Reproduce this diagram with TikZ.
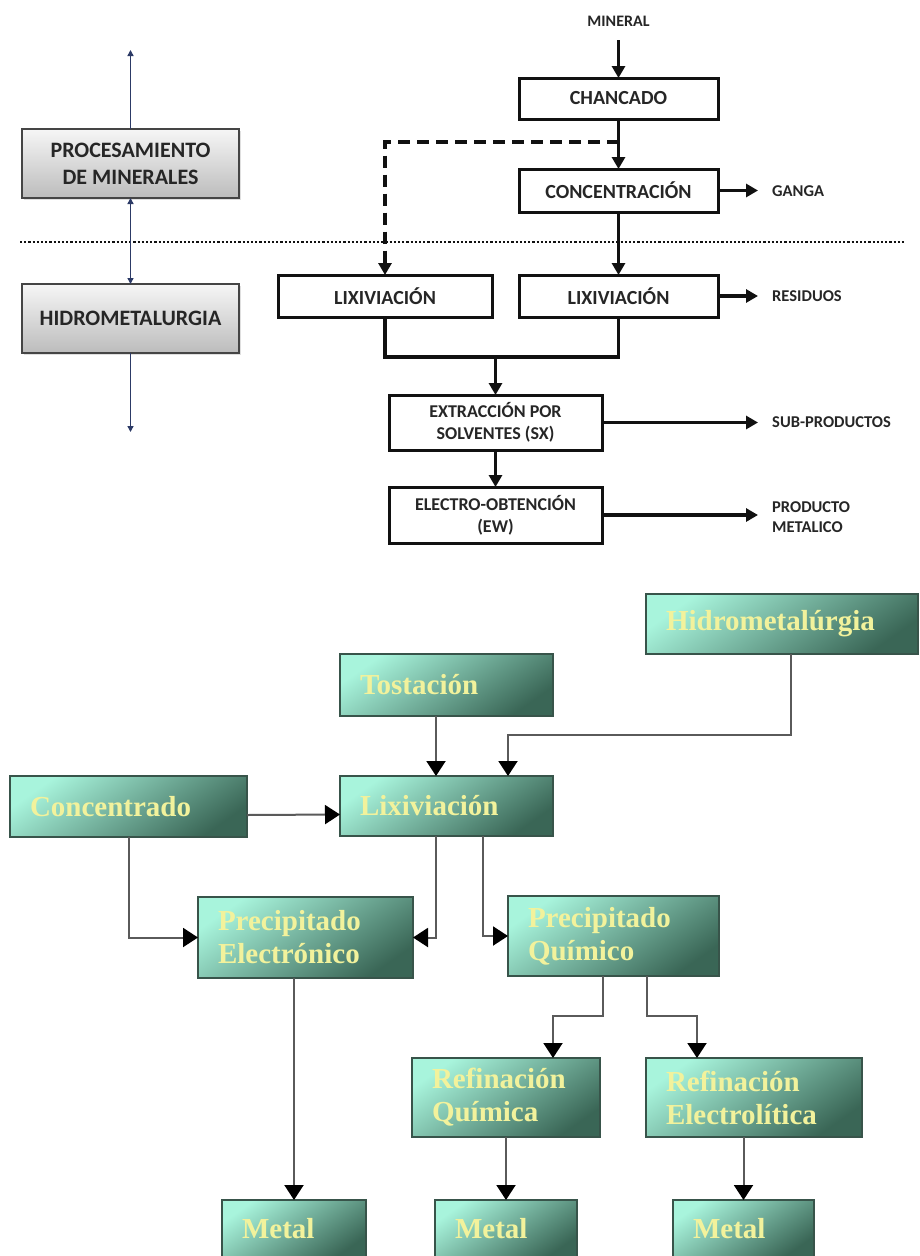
\documentclass[tikz,border=0pt]{standalone}
\usepackage{fontspec}
\newfontfamily\flowsans{Carlito}
\newfontfamily\flowserif{Liberation Serif}
\usetikzlibrary{arrows.meta,shadows}

\definecolor{flowblack}{HTML}{111111}
\definecolor{navyline}{HTML}{2C3A66}
\definecolor{grayTop}{HTML}{F6F6F6}
\definecolor{grayBot}{HTML}{BCBCBC}
\definecolor{grayEdge}{HTML}{454545}
\definecolor{greenLight}{HTML}{A8F4DC}
\definecolor{greenDark}{HTML}{3A6656}
\definecolor{greenEdge}{HTML}{38544A}
\definecolor{paleYellow}{HTML}{F2F29C}
\definecolor{linkGray}{HTML}{5A5A5A}

\begin{document}
\begin{tikzpicture}[x=1pt,y=-1pt,
  procbox/.style={draw=flowblack, line width=3pt, fill=white, inner sep=0pt,
    outer sep=0pt, align=center, text=black!85,
    font={\flowsans\bfseries\fontsize{20}{24}\selectfont}},
  smallproc/.style={procbox, font={\flowsans\bfseries\fontsize{18}{22}\selectfont}},
  sidelabel/.style={inner sep=0pt, anchor=west, align=left, text=black!85,
    font={\flowsans\bfseries\fontsize{16.5}{20}\selectfont}},
  stagebox/.style={draw=grayEdge, line width=1.8pt, top color=grayTop,
    bottom color=grayBot, inner sep=0pt, outer sep=0pt, align=center,
    text=black!85, minimum width=217pt, minimum height=69pt,
    drop shadow={shadow xshift=2pt, shadow yshift=-2pt, opacity=0.25},
    font={\flowsans\bfseries\fontsize{22}{27}\selectfont}},
  flow/.style={draw=flowblack, line width=3.2pt,
    -{Triangle[width=13pt,length=12pt]}},
  plainflow/.style={draw=flowblack, line width=3.2pt},
  stageline/.style={draw=navyline, line width=1.4pt},
  greenbox/.style={draw=greenEdge, line width=1.6pt, top color=greenLight,
    bottom color=greenDark, shading angle=35, inner xsep=20pt, inner ysep=0pt,
    outer sep=0pt, align=left, text=paleYellow,
    font={\flowserif\bfseries\fontsize{29}{33}\selectfont}},
  link/.style={draw=linkGray, line width=2pt,
    -{Triangle[width=19pt,length=15pt,color=black]}}
]
\useasboundingbox (0,0) rectangle (920,1256);
\clip (0,0) rectangle (920,1256);
\fill[white] (0,0) rectangle (920,1256);

% ---------- stage separator ----------
\coordinate (sepL) at (20,242);
\coordinate (sepR) at (905,242);
\draw[flowblack, line width=2.2pt, dash pattern=on 2.2pt off 2pt] (sepL) -- (sepR);

% ---------- stage column ----------
\node[stagebox] (proc) at (130.5,163.5) {PROCESAMIENTO\\DE MINERALES};
\node[stagebox] (hidroStage) at (130.5,318.5) {HIDROMETALURGIA};
\coordinate (stageTop) at (130.5,50);
\coordinate (stageBottom) at (130.5,432);
\draw[stageline, -{Triangle[width=6pt,length=6pt]}] (proc.north) -- (stageTop);
\draw[stageline, {Triangle[width=6pt,length=6pt]}-{Triangle[width=6pt,length=6pt]}]
  (proc.south) -- (hidroStage.north);
\draw[stageline, -{Triangle[width=6pt,length=6pt]}] (hidroStage.south) -- (stageBottom);

% ---------- process flow ----------
\node[inner sep=0pt, text=black!85, font={\flowsans\bfseries\fontsize{16}{20}\selectfont}]
  (mineral) at (618.5,21) {MINERAL};
\node[procbox, minimum width=199pt, minimum height=41pt] (chancado) at (618.5,98.5) {CHANCADO};
\node[procbox, minimum width=199pt, minimum height=43pt] (concen) at (618.5,190.5) {CONCENTRACIÓN};
\node[procbox, minimum width=199pt, minimum height=42pt] (lixR) at (618.5,296) {LIXIVIACIÓN};
\node[procbox, minimum width=214pt, minimum height=42pt] (lixL) at (385,296) {LIXIVIACIÓN};
\node[smallproc, minimum width=213pt, minimum height=55pt] (sx) at (495.5,422.5) {EXTRACCIÓN POR\\SOLVENTES (SX)};
\node[smallproc, minimum width=213pt, minimum height=56pt] (ew) at (495.5,515) {ELECTRO-OBTENCIÓN\\(EW)};

\node[sidelabel] (ganga) at (772,191) {GANGA};
\node[sidelabel] (residuos) at (772,296) {RESIDUOS};
\node[sidelabel] (subprod) at (772,422.5) {SUB-PRODUCTOS};
\node[sidelabel] (prodmet) at (772,517) {PRODUCTO\\METALICO};

\draw[flow, shorten <=14pt] (mineral.south) -- (chancado.north);
\draw[flow] (chancado.south) -- (concen.north);
\coordinate (split) at (618.5,142);
\draw[flowblack, line width=3.2pt, dash pattern=on 12pt off 7pt,
  -{Triangle[width=13pt,length=12pt]}] (split) -| (lixL.north);
\draw[flow] (concen.south) -- (lixR.north);
\draw[flow, shorten >=14pt] (concen.east) -- (concen.east -| ganga.west);
\draw[flow, shorten >=14pt] (lixR.east) -- (lixR.east -| residuos.west);
\coordinate (merge) at (495.5,357);
\draw[plainflow, line join=miter] (lixL.south) |- (merge) -| (lixR.south);
\draw[flow] (merge) -- (sx.north);
\draw[flow] (sx.south) -- (ew.north);
\draw[flow, shorten >=14pt] (sx.east) -- (sx.east -| subprod.west);
\draw[flow, shorten >=14pt] (ew.east) -- (ew.east -| prodmet.west);

% ---------- metallurgical routes ----------
\node[greenbox, text width=232pt, minimum height=60pt] (hidro) at (782,624) {Hidrometalúrgia};
\node[greenbox, text width=173pt, minimum height=62pt] (tost) at (446.5,685) {Tostación};
\node[greenbox, text width=197pt, minimum height=61pt] (conc) at (128.5,806.5) {Concentrado};
\node[greenbox, text width=173pt, minimum height=60pt] (lix) at (446.5,806) {Lixiviación};
\node[greenbox, text width=175pt, minimum height=81pt] (pe) at (305.5,937.5) {Precipitado\\Electrónico};
\node[greenbox, text width=171pt, minimum height=80pt] (pq) at (613.5,936) {Precipitado\\Químico};
\node[greenbox, text width=148pt, minimum height=79pt] (rq) at (506,1097.5) {Refinación\\Química};
\node[greenbox, text width=176pt, minimum height=79pt] (re) at (754,1097.5) {Refinación\\Electrolítica};
\node[greenbox, text width=104pt, minimum height=58pt] (m1) at (294,1229) {Metal};
\node[greenbox, text width=102pt, minimum height=58pt] (m2) at (506,1229) {Metal};
\node[greenbox, text width=101pt, minimum height=58pt] (m3) at (743.5,1229) {Metal};

\draw[link] ([xshift=-10.5pt]tost.south) -- ([xshift=-10.5pt]lix.north);
\draw[link] ([xshift=9pt]hidro.south) -- ++(0,81) -| ([xshift=61.5pt]lix.north);
\draw[link] ([yshift=-8.5pt]conc.east) -- ([yshift=-8.5pt]lix.west);
\draw[link] (conc.south) |- (pe.west);
\draw[link] ([xshift=-10.5pt]lix.south) |- (pe.east);
\draw[link] ([xshift=36.5pt]lix.south) |- (pq.west);
\draw[link] (m1.north |- pe.south) -- (m1.north);
\draw[link] ([xshift=-10.5pt]pq.south) -- ++(0,40) -| ([xshift=47pt]rq.north);
\draw[link] ([xshift=33.5pt]pq.south) -- ++(0,40) -| ([xshift=-57pt]re.north);
\draw[link] (rq.south) -- (m2.north);
\draw[link] (m3.north |- re.south) -- (m3.north);
\end{tikzpicture}
\end{document}
